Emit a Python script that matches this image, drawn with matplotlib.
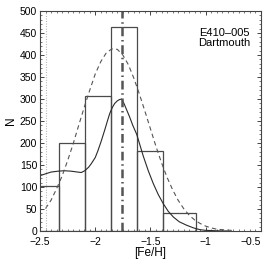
import numpy as np
import matplotlib
matplotlib.use("Agg")
import matplotlib.pyplot as plt
from matplotlib.ticker import MultipleLocator

# histogram of [Fe/H]
bin_edges = [-2.567, -2.331, -2.095, -1.860, -1.619, -1.384, -1.088]
counts = [103, 200, 307, 463, 183, 40]

# solid curve
solid_x = [-2.52, -2.45, -2.40, -2.337, -2.28, -2.217, -2.16, -2.126, -2.095, -2.06,
           -2.036, -2.0, -1.975, -1.945, -1.915, -1.89, -1.869, -1.845, -1.824, -1.80,
           -1.779, -1.761, -1.74, -1.715, -1.69, -1.66, -1.625, -1.595, -1.565, -1.52,
           -1.475, -1.43, -1.384, -1.34, -1.294, -1.24, -1.172, -1.11, -1.052, -1.0,
           -0.9, -0.8]
solid_y = [124, 130, 134, 136, 137, 136, 134, 133, 137, 145,
           153, 167, 183, 205, 229, 250, 267, 281, 290, 296,
           299, 300, 290, 275, 260, 240, 220, 195, 170, 137,
           108, 83, 62, 45, 32, 21, 13, 7, 3, 1.5,
           0.5, 0]

# dashed curve
dash_x = [-2.45, -2.40, -2.35, -2.30, -2.25, -2.20, -2.15, -2.10, -2.05, -2.00,
          -1.95, -1.90, -1.85, -1.80, -1.75, -1.70, -1.65, -1.60, -1.55, -1.50,
          -1.45, -1.40, -1.35, -1.30, -1.25, -1.20, -1.15, -1.10, -1.05, -1.00,
          -0.95, -0.90, -0.85, -0.80, -0.75]
dash_y = [51, 70, 96, 125, 160, 198, 240, 281, 320, 357,
          385, 405, 414, 413, 400, 378, 347, 311, 272, 232,
          192, 155, 122, 94, 70, 51, 36, 25, 17, 11,
          7, 4, 3, 2, 1]

mean_feh = -1.758
limit_feh = -2.446

xticks = [-2.5, -2, -1.5, -1, -0.5]
xtick_labels = ['\u22122.5', '\u22122', '\u22121.5', '\u22121', '\u22120.5']

plt.rcParams['font.family'] = ['Liberation Sans', 'DejaVu Sans']
plt.rcParams['font.size'] = 7.5

fig = plt.figure(figsize=(2.73, 2.64), dpi=100)
ax = fig.add_axes([0.1465, 0.125, 0.8095, 0.833])

ax.bar(bin_edges[:-1], counts, width=np.diff(bin_edges), align='edge',
       fill=False, edgecolor='#4a4a4a', linewidth=0.9)
ax.plot(solid_x, solid_y, color='#2a2a2a', linewidth=0.8)
ax.plot(dash_x, dash_y, color='#555555', linewidth=0.8, dashes=(4, 3))
ax.axvline(mean_feh, color='#555555', linewidth=1.8, dashes=(3.5, 1.5, 0.6, 1.5))
ax.axvline(limit_feh, color='#aaaaaa', linewidth=0.8, linestyle=(0, (0.8, 1.5)))

ax.text(0.95, 0.925, "E410\u2013005\nDartmouth", transform=ax.transAxes,
        ha='right', va='top', fontsize=8, linespacing=1.0)

ax.set_xlim(-2.5, -0.5)
ax.set_ylim(0, 500)
ax.xaxis.set_minor_locator(MultipleLocator(0.05))
ax.yaxis.set_major_locator(MultipleLocator(50))
ax.yaxis.set_minor_locator(MultipleLocator(10))
ax.tick_params(which='both', direction='in', top=True, right=True, color='#444444')
ax.tick_params(which='major', length=3, width=0.7, pad=2)
ax.tick_params(axis='x', which='major', pad=4)
ax.tick_params(which='minor', length=1.5, width=0.5)
ax.set_xticks(xticks)
ax.set_xticklabels(xtick_labels)
ax.get_xticklabels()[-1].set_horizontalalignment('right')
for s in ax.spines.values():
    s.set_linewidth(0.8)
    s.set_color('#444444')

ax.set_xlabel('[Fe/H]', fontsize=8.5, labelpad=0)
ax.set_ylabel('N', fontsize=8.5, labelpad=2)

fig.savefig('out.png', dpi=100)
